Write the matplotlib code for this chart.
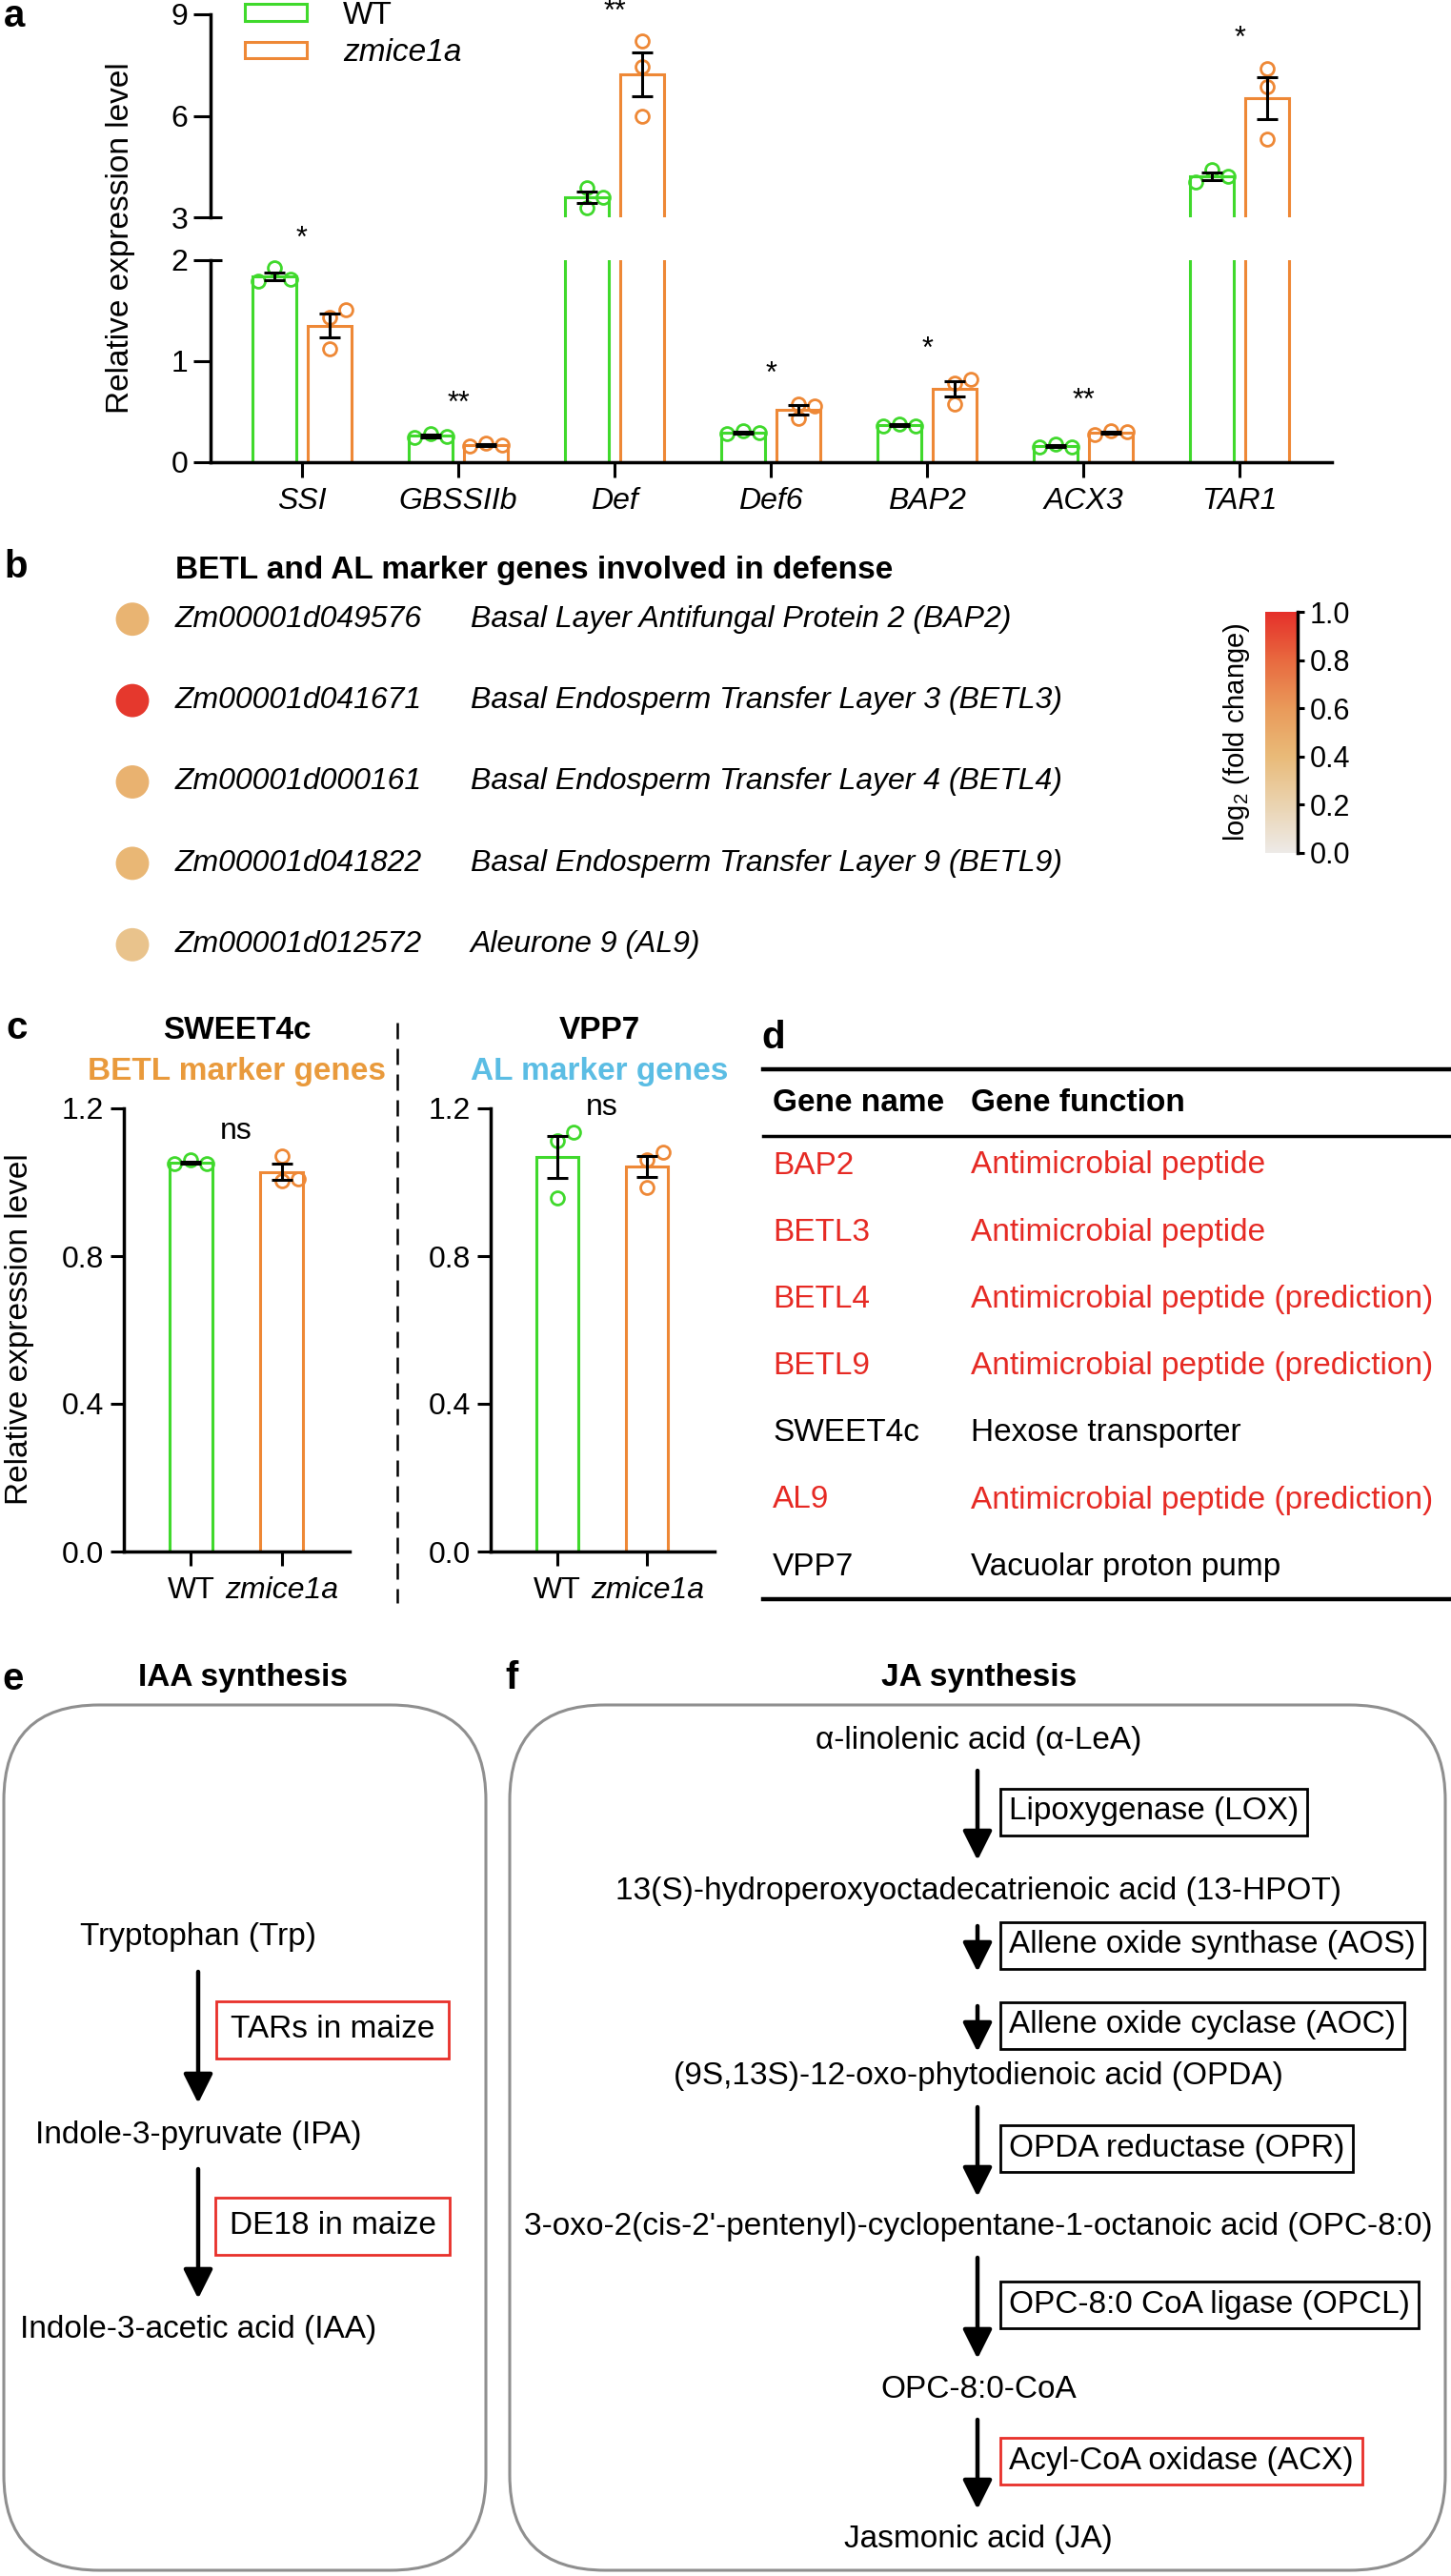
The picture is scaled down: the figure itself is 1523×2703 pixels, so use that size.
import numpy as np
import matplotlib
matplotlib.use("Agg")
import matplotlib.pyplot as plt
from matplotlib.patches import FancyBboxPatch, Patch
from matplotlib.colors import LinearSegmentedColormap, Normalize
from matplotlib.cm import ScalarMappable
from matplotlib.ticker import FormatStrFormatter
from matplotlib import transforms

plt.rcParams['font.family'] = ['Liberation Sans', 'DejaVu Sans']
plt.rcParams['mathtext.fontset'] = 'custom'
plt.rcParams['mathtext.rm'] = 'Liberation Sans'
plt.rcParams['mathtext.it'] = 'Liberation Sans:italic'

# -----------------------------------------------------------------
# Data
# -----------------------------------------------------------------
# panel a : qRT-PCR, three replicates per genotype
genes_a = ['SSI', 'GBSSIIb', 'Def', 'Def6', 'BAP2', 'ACX3', 'TAR1']
wt_a = [[1.92, 1.81, 1.79], [0.28, 0.255, 0.245], [3.87, 3.59, 3.28], [0.31, 0.29, 0.28],
        [0.38, 0.36, 0.36], [0.18, 0.15, 0.155], [4.42, 4.21, 4.03]]
mut_a = [[1.43, 1.51, 1.12], [0.19, 0.17, 0.16], [8.2, 7.45, 6.0], [0.575, 0.56, 0.43],
         [0.82, 0.78, 0.58], [0.31, 0.30, 0.27], [7.4, 6.85, 5.3]]
sig_a = ['*', '**', '**', '*', '*', '**', '*']

# panel b : marker genes, log2 fold change
b_ids = ['Zm00001d049576', 'Zm00001d041671', 'Zm00001d000161', 'Zm00001d041822', 'Zm00001d012572']
b_names = ['Basal Layer Antifungal Protein 2 (BAP2)', 'Basal Endosperm Transfer Layer 3 (BETL3)',
           'Basal Endosperm Transfer Layer 4 (BETL4)', 'Basal Endosperm Transfer Layer 9 (BETL9)',
           'Aleurone 9 (AL9)']
b_log2fc = [0.44, 0.97, 0.45, 0.42, 0.33]

# panel c
c_genes = ['SWEET4c', 'VPP7']
c_groups = ['BETL marker genes', 'AL marker genes']
c_wt = [[1.05, 1.06, 1.05], [1.112, 1.135, 0.957]]
c_mut = [[1.07, 1.01, 1.004], [1.06, 1.081, 0.986]]
c_sig = ['ns', 'ns']

# panel d
d_names = ['BAP2', 'BETL3', 'BETL4', 'BETL9', 'SWEET4c', 'AL9', 'VPP7']
d_funcs = ['Antimicrobial peptide', 'Antimicrobial peptide', 'Antimicrobial peptide (prediction)',
           'Antimicrobial peptide (prediction)', 'Hexose transporter',
           'Antimicrobial peptide (prediction)', 'Vacuolar proton pump']

# panels e, f
iaa_steps = ['Tryptophan (Trp)', 'Indole-3-pyruvate (IPA)', 'Indole-3-acetic acid (IAA)']
iaa_enzymes = ['TARs in maize', 'DE18 in maize']
ja_steps = ['\u03b1-linolenic acid (\u03b1-LeA)', '13(S)-hydroperoxyoctadecatrienoic acid (13-HPOT)',
            '(9S,13S)-12-oxo-phytodienoic acid (OPDA)',
            "3-oxo-2(cis-2'-pentenyl)-cyclopentane-1-octanoic acid (OPC-8:0)",
            'OPC-8:0-CoA', 'Jasmonic acid (JA)']
ja_enzymes = [['Lipoxygenase (LOX)'], ['Allene oxide synthase (AOS)', 'Allene oxide cyclase (AOC)'],
              ['OPDA reductase (OPR)'], ['OPC-8:0 CoA ligase (OPCL)'], ['Acyl-CoA oxidase (ACX)']]
ja_highlight = ['Acyl-CoA oxidase (ACX)']

GREEN = '#40D92C'
ORANGE = '#EE8836'
RED = '#E8302A'

W, H = 1523, 2703
fig = plt.figure(figsize=(W / 100, H / 100), dpi=100)


def px_axes(x0, y0, x1, y1):
    return fig.add_axes([x0 / W, 1 - y1 / H, (x1 - x0) / W, (y1 - y0) / H])


def sem(v):
    v = np.asarray(v)
    return v.std(ddof=1) / np.sqrt(len(v))


def jitter(ax, vals, d_px=17, thr_px=15):
    # spread overlapping replicate points sideways, GraphPad style
    vals = np.asarray(vals, float)
    py = ax.transData.transform(np.column_stack([np.zeros(len(vals)), vals]))[:, 1]
    ux = ax.transData.transform([[1, 0]])[0, 0] - ax.transData.transform([[0, 0]])[0, 0]
    idx = np.argsort(vals)
    clusters = [[idx[0]]]
    for a, b in zip(idx[:-1], idx[1:]):
        if abs(py[b] - py[a]) < thr_px:
            clusters[-1].append(b)
        else:
            clusters.append([b])
    off = np.zeros(len(vals))
    for c in clusters:
        if len(c) == 2:
            off[c[1]] = 1
        elif len(c) == 3:
            if abs(py[c[2]] - py[c[0]]) < thr_px:
                off[c[0]], off[c[1]], off[c[2]] = -1, 1, 0
            else:
                off[c[1]] = 1
    return off * d_px / ux


def style(ax):
    ax.set_facecolor('none')
    for s in ['top', 'right']:
        ax.spines[s].set_visible(False)
    for s in ['left', 'bottom']:
        ax.spines[s].set_linewidth(2.5)
    ax.tick_params(width=2.2, labelsize=23)


# canvas in pixel units for text, lines and diagrams
canvas = fig.add_axes([0, 0, 1, 1])
canvas.set_xlim(0, W)
canvas.set_ylim(H, 0)
canvas.axis('off')

# -----------------------------------------------------------------
# a : broken-axis bar chart
# -----------------------------------------------------------------
ax_lo = px_axes(221, 273, 1398, 485)
ax_hi = px_axes(221, 15, 1398, 228)
xa = np.arange(len(genes_a))
shift, bw = 0.177, 0.28
for ax, lim in ((ax_lo, (0, 2)), (ax_hi, (3, 9))):
    style(ax)
    ax.set_xlim(-0.585, 6.59)
    ax.set_ylim(*lim)
for ax in (ax_lo, ax_hi):
    for grp, col, sx in ((wt_a, GREEN, -shift), (mut_a, ORANGE, shift)):
        means = [np.mean(v) for v in grp]
        errs = [sem(v) for v in grp]
        ax.bar(xa + sx, means, width=bw, facecolor='white', edgecolor=col, linewidth=2.2, zorder=1)
        for i, v in enumerate(grp):
            jax = ax_hi if min(v) > 3 else ax_lo
            ax.plot(i + sx + jitter(jax, v), v, 'o', mfc='none', mec=col, ms=10, mew=2, zorder=3)
        ax.errorbar(xa + sx, means, yerr=errs, fmt='none', ecolor='black', elinewidth=2.2,
                    capsize=8, capthick=2.2, zorder=4)

ax_lo.set_yticks([0, 1, 2])
ax_hi.set_yticks([3, 6, 9])
ax_hi.spines['bottom'].set_visible(False)
ax_hi.tick_params(axis='x', bottom=False, labelbottom=False)
ax_lo.set_xticks(xa)
ax_lo.set_xticklabels(genes_a, fontstyle='italic')
ax_lo.tick_params(axis='x', length=11.5, pad=7)
for ax in (ax_lo, ax_hi):
    ax.tick_params(axis='y', length=13, pad=4)
# break marks
for ax, yb in ((ax_lo, 2), (ax_hi, 3)):
    tr = transforms.blended_transform_factory(ax.transAxes, ax.transData)
    ax.plot([0, 12 / 1177], [yb, yb], color='black', lw=2.2, transform=tr, clip_on=False,
            solid_capstyle='butt')

for i, s in enumerate(sig_a):
    top = max(max(wt_a[i]), max(mut_a[i]), np.mean(wt_a[i]) + sem(wt_a[i]),
              np.mean(mut_a[i]) + sem(mut_a[i]))
    ax = ax_hi if top > 3 else ax_lo
    ax.annotate(s, (i, top), xytext=(0, 16.5), textcoords='offset points', ha='center',
                va='baseline', fontsize=22, annotation_clip=False)

leg = ax_hi.legend(handles=[Patch(facecolor='white', edgecolor=GREEN, lw=2.2, label='WT'),
                            Patch(facecolor='white', edgecolor=ORANGE, lw=2.2, label='zmice1a')],
                   loc='upper left', bbox_to_anchor=(257 / W, 1 - 1 / H), bbox_transform=fig.transFigure,
                   frameon=False, fontsize=24, handlelength=1.95, handleheight=0.42,
                   handletextpad=1.15, labelspacing=0.25, borderpad=0, borderaxespad=0)
leg.get_texts()[1].set_fontstyle('italic')

canvas.text(127, 250, 'Relative expression level', rotation=90, ha='center', va='center', fontsize=24)

# -----------------------------------------------------------------
# b : dot list with colour scale
# -----------------------------------------------------------------
cmap = LinearSegmentedColormap.from_list('fc', ['#EDEAE7', '#EAD3B0', '#E9BA78', '#E99A5A',
                                                '#E8693F', '#E5302A'])
ax_b = px_axes(100, 607, 1200, 1034)
ax_b.set_xlim(0, 1100)
ax_b.set_ylim(len(b_ids) - 0.5, -0.5)
ax_b.axis('off')
rows = np.arange(len(b_ids))
ax_b.scatter(np.full(len(rows), 39), rows, c=b_log2fc, cmap=cmap, vmin=0, vmax=1, s=630,
             edgecolors='none')
for r, gid, nm in zip(rows, b_ids, b_names):
    ax_b.text(84, r, gid, fontstyle='italic', va='center', fontsize=23)
    ax_b.text(394, r, nm, fontstyle='italic', va='center', fontsize=23)
canvas.text(184, 598, 'BETL and AL marker genes involved in defense', fontweight='bold',
            va='center', fontsize=24)

cax = px_axes(1328, 642, 1362, 895)
cb = fig.colorbar(ScalarMappable(norm=Normalize(0, 1), cmap=cmap), cax=cax,
                  ticks=[0, 0.2, 0.4, 0.6, 0.8, 1.0])
cb.outline.set_visible(False)
cax.plot([1, 1], [0, 1], color='black', lw=2.5, transform=cax.transAxes, clip_on=False)
cax.yaxis.set_major_formatter(FormatStrFormatter('%.1f'))
cax.tick_params(length=5, width=2.2, labelsize=22, pad=4)
cb.set_label('log$_2$ (fold change)', fontsize=21, labelpad=10)
cax.yaxis.set_label_position('left')

# -----------------------------------------------------------------
# c : two small bar charts
# -----------------------------------------------------------------
for k, (x0, x1) in enumerate([(130, 367), (515, 750)]):
    ax = px_axes(x0, 1163, x1, 1628)
    style(ax)
    ax.set_xlim(-0.74, 1.75)
    ax.set_ylim(0, 1.2)
    groups = (c_wt[k], c_mut[k])
    for j, (v, col) in enumerate(zip(groups, (GREEN, ORANGE))):
        ax.bar(j, np.mean(v), width=0.47, facecolor='white', edgecolor=col, linewidth=2.2, zorder=1)
        ax.plot(j + jitter(ax, v), v, 'o', mfc='none', mec=col, ms=10, mew=2, zorder=3)
        ax.errorbar(j, np.mean(v), yerr=sem(v), fmt='none', ecolor='black', elinewidth=2.2,
                    capsize=8, capthick=2.2, zorder=4)
    top = max(max(g) for g in groups)
    ax.annotate(c_sig[k], (0.5, top), xytext=(0, 13), textcoords='offset points', ha='center',
                va='baseline', fontsize=23, annotation_clip=False)
    ax.set_yticks([0, 0.4, 0.8, 1.2])
    ax.yaxis.set_major_formatter(FormatStrFormatter('%.1f'))
    ax.set_xticks([0, 1])
    ax.set_xticklabels(['WT', 'zmice1a'])
    ax.get_xticklabels()[1].set_fontstyle('italic')
    ax.tick_params(axis='y', length=10, pad=5)
    ax.tick_params(axis='x', length=11, pad=8)
    cx = (x0 + 119 + x0 + 214) / 2 if k == 0 else 631
    canvas.text(249 if k == 0 else 629, 1082, c_genes[k], fontweight='bold', ha='center',
                va='center', fontsize=24)
    canvas.text(249 if k == 0 else 629, 1125, c_groups[k], fontweight='bold', ha='center',
                va='center', fontsize=24, color='#E99A3C' if k == 0 else '#5BBDE4')

canvas.text(21, 1395, 'Relative expression level', rotation=90, ha='center', va='center', fontsize=24)
canvas.plot([417, 417], [1073, 1682], color='black', lw=1.8, dashes=(6.8, 4))

# -----------------------------------------------------------------
# d : table
# -----------------------------------------------------------------
canvas.plot([801, W], [1122, 1122], color='black', lw=3.2)
canvas.plot([801, W], [1192, 1192], color='black', lw=2.5)
canvas.text(811, 1157, 'Gene name', fontweight='bold', va='center', fontsize=24)
canvas.text(1019, 1157, 'Gene function', fontweight='bold', va='center', fontsize=24)
for i, (nm, fn) in enumerate(zip(d_names, d_funcs)):
    y = 1223 + 70.2 * i
    col = '#E62A24' if 'Antimicrobial' in fn else 'black'
    canvas.text(811, y, nm, va='center', fontsize=24, color=col)
    canvas.text(1019, y, fn, va='center', fontsize=24, color=col)
canvas.plot([801, W], [1678, 1678], color='black', lw=3.2)

# -----------------------------------------------------------------
# e, f : pathways
# -----------------------------------------------------------------
for bx0, bx1 in ((4, 510), (535, 1517)):
    canvas.add_patch(FancyBboxPatch((bx0, 1789), bx1 - bx0, 2697 - 1789,
                                    boxstyle='round,pad=0,rounding_size=100',
                                    fc='none', ec='#8F8F8F', lw=2.2))
canvas.text(255, 1760, 'IAA synthesis', fontweight='bold', ha='center', va='center', fontsize=24)
canvas.text(1028, 1760, 'JA synthesis', fontweight='bold', ha='center', va='center', fontsize=24)

arrow_kw = dict(arrowstyle='-|>,head_length=0.4,head_width=0.2', color='black', lw=3.2,
                mutation_scale=47, shrinkA=0, shrinkB=0)


def arrow(x, y0, y1):
    canvas.annotate('', xy=(x, y1), xytext=(x, y0), arrowprops=arrow_kw)


iaa_y = [2033, 2240, 2445]
for i, s in enumerate(iaa_steps):
    canvas.text(208, iaa_y[i], s, ha='center', va='center', fontsize=24)
for i, e in enumerate(iaa_enzymes):
    y0, y1 = iaa_y[i] + 36, iaa_y[i + 1] - 33
    arrow(208, y0, y1)
    canvas.text(349, (y0 + y1) / 2 - 8, e, ha='center', va='center', fontsize=24,
                bbox=dict(boxstyle='square,pad=0.43', fc='white', ec=RED, lw=2))

ja_y = [1826, 1984, 2179, 2337, 2507, 2665]
for i, s in enumerate(ja_steps):
    canvas.text(1027, ja_y[i], s, ha='center', va='center', fontsize=24)
for i, enz in enumerate(ja_enzymes):
    if len(enz) == 1:
        segs = [(ja_y[i] + 32, ja_y[i + 1] - 32)]
    else:
        s0 = ja_y[i] + 37
        segs = [(s0 + j * 84, s0 + j * 84 + 48) for j in range(len(enz))]
    for (y0, y1), e in zip(segs, enz):
        arrow(1026, y0, y1)
        ec = RED if e in ja_highlight else 'black'
        canvas.text(1059, (y0 + y1) / 2 - 4, e, ha='left', va='center', fontsize=24,
                    bbox=dict(boxstyle='square,pad=0.27', fc='white', ec=ec, lw=2))

# panel letters
for lab, x, y in (('a', 4, 28), ('b', 4, 606), ('c', 6, 1090), ('d', 799, 1100),
                  ('e', 2, 1773), ('f', 530, 1772)):
    canvas.text(x, y, lab, fontweight='bold', fontsize=29, va='baseline', ha='left')

fig.savefig('out.png', dpi=100)
